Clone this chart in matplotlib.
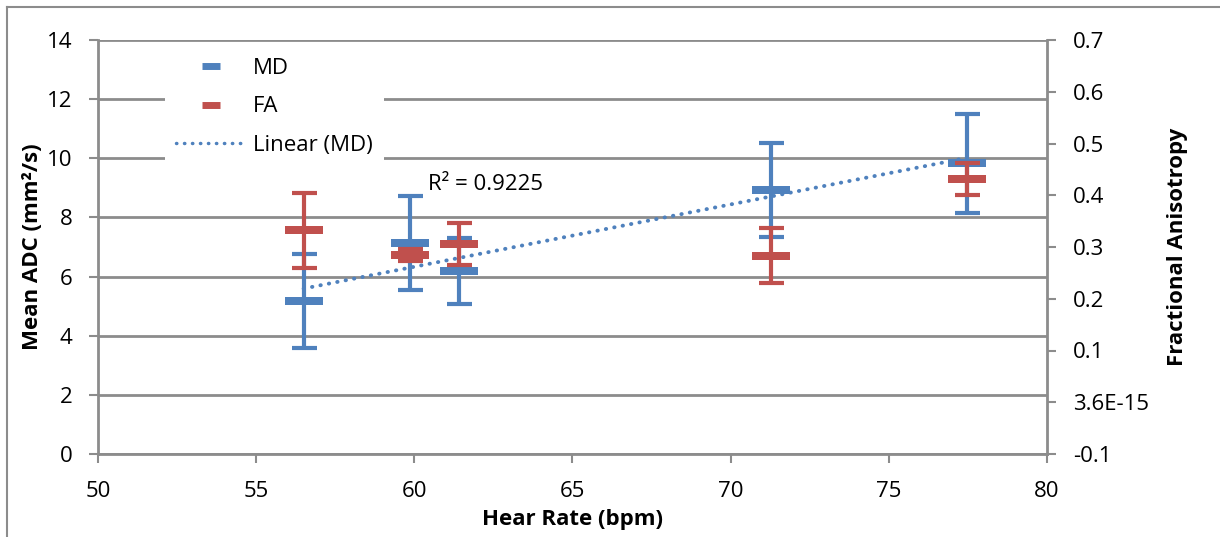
import numpy as np
import matplotlib.pyplot as plt
from matplotlib.lines import Line2D

plt.rcParams["font.family"] = ["Open Sans", "DejaVu Sans"]

# values
heart_rate = [56.5, 59.86, 61.41, 71.28, 77.47]
md_mean = [5.17, 7.13, 6.19, 8.93, 9.83]
md_err = [1.59, 1.59, 1.12, 1.60, 1.67]
fa_mean = [0.332, 0.284, 0.306, 0.283, 0.431]
fa_err = [0.073, 0.012, 0.041, 0.053, 0.031]

left_ticks = [0, 2, 4, 6, 8, 10, 12, 14]
right_ticks = [-0.1, 0.0, 0.1, 0.2, 0.3, 0.4, 0.5, 0.6, 0.7]
right_labels = ["-0.1", "3.6E-15", "0.1", "0.2", "0.3", "0.4", "0.5", "0.6", "0.7"]
x_ticks = [50, 55, 60, 65, 70, 75, 80]
r2_text = "R\u00b2 = 0.9225"

BLUE = "#4F81BD"
RED = "#C0504D"
GRID = "#8C8C8C"
FS = 16

# wide flat rectangle used as the point marker
bar = [(-1, -0.22), (1, -0.22), (1, 0.22), (-1, 0.22), (-1, -0.22)]

fig = plt.figure(figsize=(12.2, 5.37), dpi=100)
fig.subplots_adjust(left=98 / 1220, right=1047 / 1220, top=1 - 40 / 537, bottom=1 - 454 / 537)
ax = fig.add_subplot(111)

ax.errorbar(heart_rate, md_mean, yerr=md_err, fmt="none", ecolor=BLUE,
            elinewidth=3, capsize=9, capthick=3, zorder=3)
ax.plot(heart_rate, md_mean, linestyle="none", marker=bar, markersize=28,
        color=BLUE, markeredgewidth=0, zorder=4)

# linear trendline of MD
coef = np.polyfit(heart_rate, md_mean, 1)
xs = np.array([min(heart_rate), max(heart_rate)])
ax.plot(xs, np.polyval(coef, xs), color=BLUE, lw=2.8,
        linestyle=(0, (0.1, 2.1)), dash_capstyle="round", zorder=6)

ax.text(60.43, 9.1, r2_text, fontsize=FS, va="center", ha="left", zorder=7)

ax.set_xlim(50, 80)
ax.set_ylim(0, 14)
ax.set_xticks(x_ticks)
ax.set_yticks(left_ticks)
ax.yaxis.grid(True, color=GRID, lw=2)
ax.set_axisbelow(True)
ax.tick_params(axis="both", labelsize=FS, color=GRID, width=1.5, length=6.5)
ax.tick_params(axis="y", pad=12)
ax.tick_params(axis="x", pad=13)
for s in ["top", "right"]:
    ax.spines[s].set_visible(False)
for s in ["left", "bottom"]:
    ax.spines[s].set_color(GRID)
    ax.spines[s].set_linewidth(2)
ax.set_xlabel("Hear Rate (bpm)", fontsize=FS, fontweight="bold", labelpad=5)
ax.set_ylabel("Mean ADC (mm\u00b2/s)", fontsize=FS, fontweight="bold", labelpad=3)

ax2 = ax.twinx()
ax2.errorbar(heart_rate, fa_mean, yerr=fa_err, fmt="none", ecolor=RED,
             elinewidth=3, capsize=9, capthick=3, zorder=3)
ax2.plot(heart_rate, fa_mean, linestyle="none", marker=bar, markersize=28,
         color=RED, markeredgewidth=0, zorder=4)
ax2.set_ylim(-0.1, 0.7)
ax2.set_yticks(right_ticks)
ax2.set_yticklabels(right_labels)
ax2.tick_params(axis="y", labelsize=FS, color=GRID, width=1.5, length=6.5, pad=12)
for s in ["top", "left", "bottom"]:
    ax2.spines[s].set_visible(False)
ax2.spines["right"].set_color(GRID)
ax2.spines["right"].set_linewidth(2)
ax2.set_ylabel("Fractional Anisotropy", fontsize=FS, fontweight="bold", labelpad=13)

handles = [
    Line2D([], [], color=BLUE, marker="_", markersize=13, markeredgewidth=5, linestyle="none"),
    Line2D([], [], color=RED, marker="_", markersize=13, markeredgewidth=5, linestyle="none"),
    Line2D([], [], color=BLUE, lw=2.5, linestyle=(0, (0.1, 2.2)), dash_capstyle="round"),
]
leg = ax.legend(handles, ["MD", "FA", "Linear (MD)"], loc="upper left",
                bbox_to_anchor=(165 / 1220, 1 - 47 / 537), bbox_transform=fig.transFigure,
                fontsize=FS, frameon=True, framealpha=1, facecolor="white",
                edgecolor="none", fancybox=False, handlelength=3.15, handletextpad=0.3,
                labelspacing=0.78, borderpad=0.5, borderaxespad=0, numpoints=1)
leg.set_zorder(10)

# outer chart border (only left and top edges visible in the crop)
fig.add_artist(Line2D([7 / 1220, 7 / 1220], [0, 1 - 7 / 537], transform=fig.transFigure,
                      color=GRID, lw=1.5))
fig.add_artist(Line2D([7 / 1220, 1], [1 - 7 / 537, 1 - 7 / 537], transform=fig.transFigure,
                      color=GRID, lw=1.5))

fig.savefig("out.png", dpi=100)
